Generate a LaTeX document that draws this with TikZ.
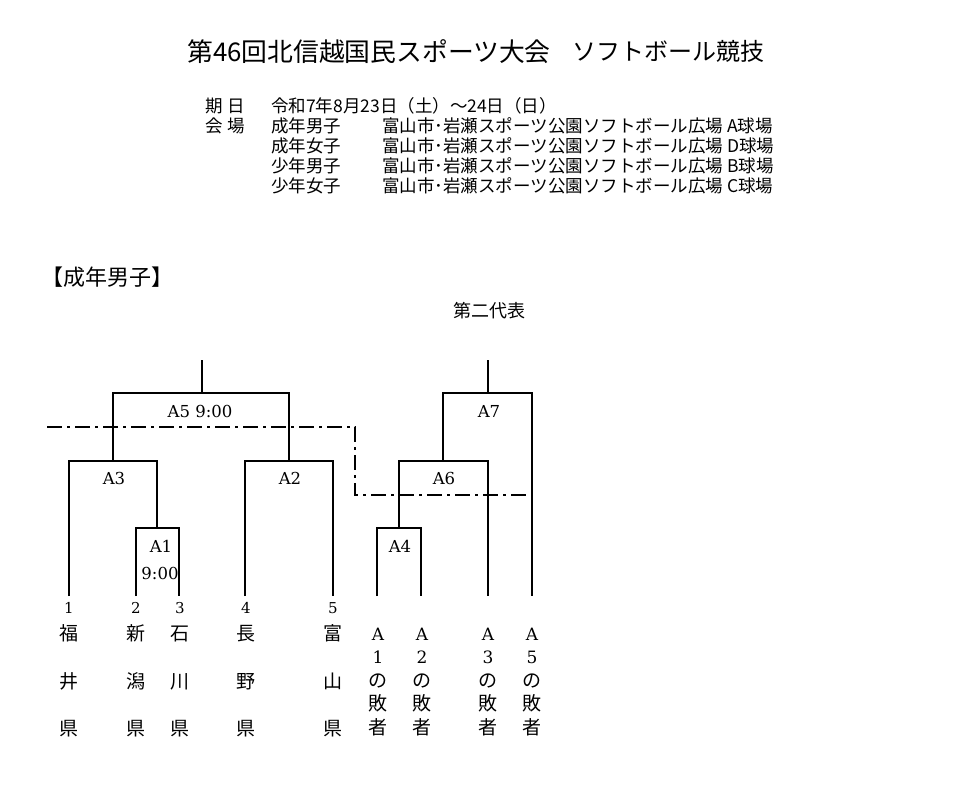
\documentclass[tikz,border=0pt]{standalone}
\usepackage{fontspec}
\setmainfont{DejaVu Serif}
\newfontfamily\jp{Noto Sans CJK JP}
\begin{document}
\begin{tikzpicture}[x=1pt,y=-1pt,
  brk/.style={line width=1.9pt, line join=miter},
  dashdot/.style={line width=1.5pt, dash pattern=on 15pt off 5pt on 3pt off 5pt},
  title/.style={inner sep=0pt, anchor=west, font=\jp\fontsize{25.8}{25.8}\selectfont, text height=22pt, text depth=1.5pt},
  titleb/.style={inner sep=0pt, anchor=east, font=\jp\fontsize{24}{24}\selectfont, text height=20.5pt, text depth=1.4pt},
  hdr/.style={inner sep=0pt, anchor=west, font=\jp\fontsize{17.5}{17.5}\selectfont, text height=14.5pt, text depth=1pt},
  sec/.style={inner sep=0pt, anchor=west, font=\jp\fontsize{22}{22}\selectfont, text height=18pt, text depth=1.5pt},
  rep/.style={inner sep=0pt, font=\jp\fontsize{18}{18}\selectfont, text height=15pt, text depth=1pt},
  game/.style={inner sep=0pt, font=\fontsize{16.5}{16.5}\selectfont, text height=12pt, text depth=0pt},
  num/.style={inner sep=0pt, font=\fontsize{15}{15}\selectfont, text height=11pt, text depth=0pt},
  pref/.style={inner sep=0pt, font=\jp\fontsize{19}{19}\selectfont, text height=16pt, text depth=1.3pt},
  lat/.style={inner sep=0pt, font=\fontsize{17}{17}\selectfont, text height=12.4pt, text depth=0pt}]
\useasboundingbox[fill=white] (0,0) rectangle (960,786);

% title and header
\node[title] (t1) at (187,51) {第46回北信越国民スポーツ大会};
\node[titleb] (t2) at (765,51) {ソフトボール競技};
\node[hdr] (h1) at (205,106) {期\hspace{0.3em}日};
\node[hdr] (h2) at (205,126) {会\hspace{0.3em}場};
\node[hdr] (d0) at (271,106) {令和7年8月23日（土）～24日（日）};
\node[hdr] (c1) at (271,126) {成年男子};
\node[hdr] (c2) at (271,146) {成年女子};
\node[hdr] (c3) at (271,166) {少年男子};
\node[hdr] (c4) at (271,186) {少年女子};
\node[hdr] (v1) at (382,126) {富山市･岩瀬スポーツ公園ソフトボール広場 A球場};
\node[hdr] (v2) at (382,146) {富山市･岩瀬スポーツ公園ソフトボール広場 D球場};
\node[hdr] (v3) at (382,166) {富山市･岩瀬スポーツ公園ソフトボール広場 B球場};
\node[hdr] (v4) at (382,186) {富山市･岩瀬スポーツ公園ソフトボール広場 C球場};

\node[sec] (s1) at (41,277) {【成年男子】};
\node[rep] (r2) at (489,310) {第二代表};

% bracket points
\coordinate (f1) at (69,596);
\coordinate (f2) at (136,596);
\coordinate (f3) at (179,596);
\coordinate (f4) at (245,596);
\coordinate (f5) at (333,596);
\coordinate (f6) at (377,596);
\coordinate (f7) at (421,596);
\coordinate (f8) at (488,596);
\coordinate (f9) at (532,596);
\coordinate (m1) at (157,528);
\coordinate (m3) at (113,461);
\coordinate (m2) at (289,461);
\coordinate (m5) at (202,393);
\coordinate (w5) at (202,360);
\coordinate (m4) at (399,528);
\coordinate (m6) at (443,461);
\coordinate (m7) at (488,393);
\coordinate (w7) at (488,360);

\draw[brk] (f2) |- (m1) -| (f3);
\draw[brk] (f1) |- (m3) -| (m1);
\draw[brk] (f4) |- (m2) -| (f5);
\draw[brk] (m3) |- (m5) -| (m2);
\draw[brk] (m5) -- (w5);
\draw[brk] (f6) |- (m4) -| (f7);
\draw[brk] (m4) |- (m6) -| (f8);
\draw[brk] (m6) |- (m7) -| (f9);
\draw[brk] (m7) -- (w7);

% dash-dot line
\coordinate (d1) at (47,427);
\coordinate (d2) at (355,427);
\coordinate (d3) at (355,495);
\coordinate (d4) at (532,495);
\draw[dashdot] (d1) -- (d2) -- (d3) -- (d4);

% game labels
\node[game] (gA5) at (200,411) {A5 9:00};
\node[game] (gA3) at (114,478) {A3};
\node[game] (gA2) at (290,478) {A2};
\node[game] (gA7) at (489,411) {A7};
\node[game] (gA6) at (444,478) {A6};
\node[game] (gA1) at (161,546) {A1};
\node[game] (gA1t) at (160,573) {9:00};
\node[game] (gA4) at (400,546) {A4};

% numbers
\node[num] (n1) at (69,608) {1};
\node[num] (n2) at (136,608) {2};
\node[num] (n3) at (180,608) {3};
\node[num] (n4) at (246,608) {4};
\node[num] (n5) at (333,608) {5};

% prefectures
\foreach \x/\a/\b/\c/\k in {69/福/井/県/p1, 136/新/潟/県/p2, 180/石/川/県/p3, 246/長/野/県/p4, 333/富/山/県/p5}{
  \node[pref] (\k a) at (\x,633) {\a};
  \node[pref] (\k b) at (\x,681) {\b};
  \node[pref] (\k c) at (\x,728) {\c};
}

% losers
\foreach \x/\d/\k in {378/1/q1, 422/2/q2, 488/3/q3, 532/5/q4}{
  \node[lat] (\k a) at (\x,634) {A};
  \node[lat] (\k b) at (\x,657) {\d};
  \node[pref] (\k c) at (\x,680) {の};
  \node[pref] (\k d) at (\x,703) {敗};
  \node[pref] (\k e) at (\x,727) {者};
}
\end{tikzpicture}
\end{document}
